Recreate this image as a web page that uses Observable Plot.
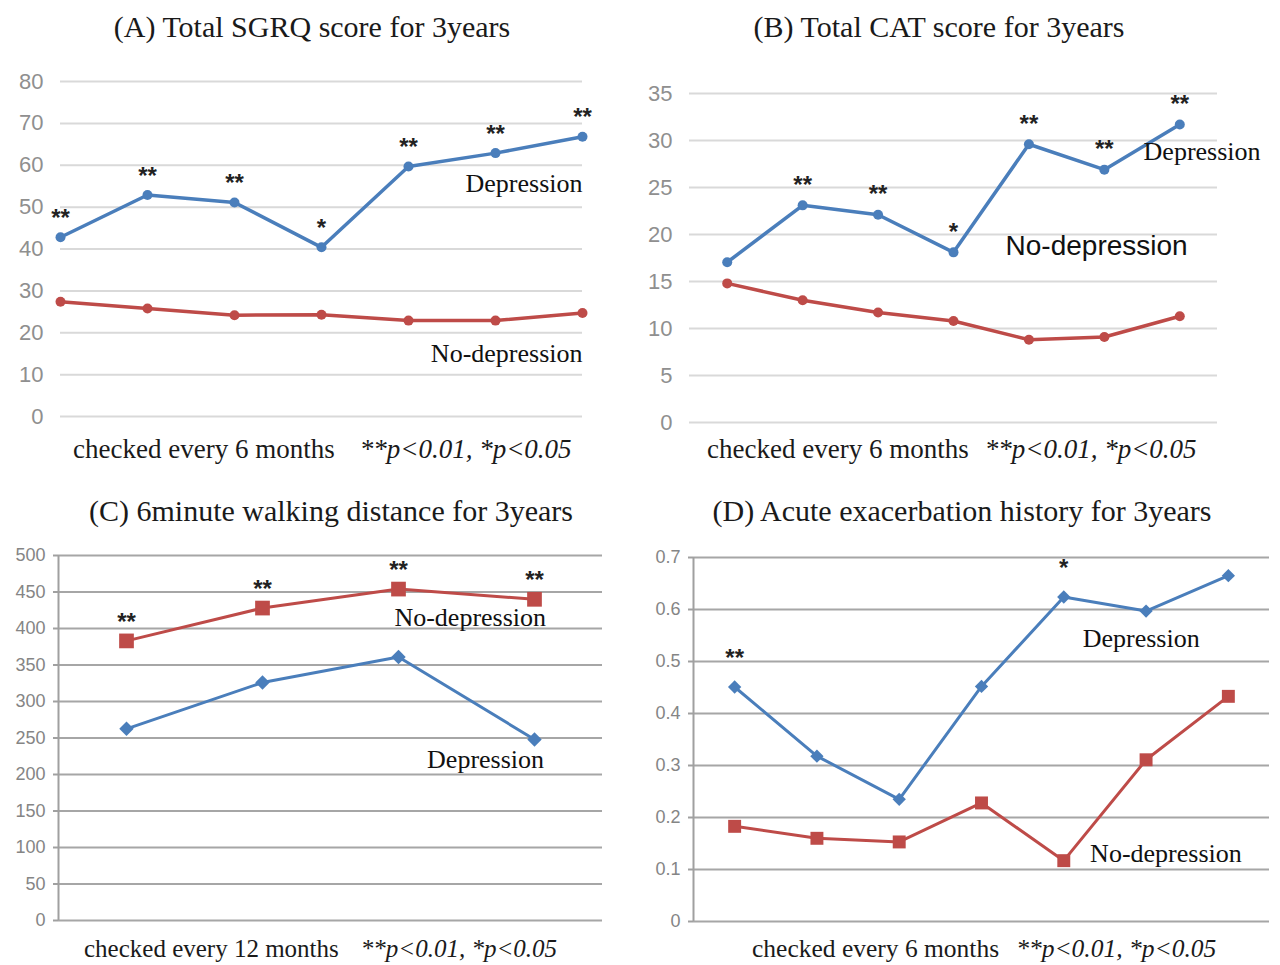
<!DOCTYPE html>
<html>
<head>
<meta charset="utf-8">
<script src="https://cdn.jsdelivr.net/npm/d3@7"></script>
<script src="https://cdn.jsdelivr.net/npm/@observablehq/plot@0.6"></script>
<style>
  body { margin: 0; background: #fff; }
  #page { position: relative; width: 1280px; height: 965px; overflow: hidden; background: #fff; }
  .panel { position: absolute; }
  .panel svg { overflow: visible; }
  .title { position: absolute; font-family: "Liberation Serif", "Times New Roman", serif; font-size: 30px; line-height: 30px; white-space: nowrap; color: #1a1a1a; transform: translateX(-50%); }
  .cap { position: absolute; font-family: "Liberation Serif", "Times New Roman", serif; line-height: 28px; white-space: nowrap; color: #1a1a1a; }
  .cap i { margin-left: var(--gap); }
</style>
</head>
<body>
<div id="page"></div>
<script>
// ---------- data ----------
const visits7 = [1, 2, 3, 4, 5, 6, 7];
const visits4 = [1, 2, 3, 4];

const sgrqDep   = [42.8, 52.9, 51.1, 40.4, 59.7, 62.9, 66.8];
const sgrqNoDep = [27.4, 25.8, 24.2, 24.3, 22.9, 22.9, 24.7];
const sgrqSig   = ["**", "**", "**", "*", "**", "**", "**"];
const sgrqTicks = [0, 10, 20, 30, 40, 50, 60, 70, 80];

const catDep   = [17.05, 23.1, 22.1, 18.1, 29.6, 26.9, 31.7];
const catNoDep = [14.8, 13.0, 11.7, 10.8, 8.8, 9.1, 11.3];
const catSig   = ["", "**", "**", "*", "**", "**", "**"];
const catTicks = [0, 5, 10, 15, 20, 25, 30, 35];

const walkDep   = [262.6, 326, 361, 248];
const walkNoDep = [383, 428, 454, 440];
const walkSig   = ["**", "**", "**", "**"];
const walkTicks = [0, 50, 100, 150, 200, 250, 300, 350, 400, 450, 500];

const aeDep   = [0.451, 0.318, 0.235, 0.452, 0.624, 0.597, 0.665];
const aeNoDep = [0.183, 0.160, 0.153, 0.228, 0.117, 0.311, 0.433];
const aeSig   = ["**", "", "", "", "*", "", ""];
const aeTicks = [0, 0.1, 0.2, 0.3, 0.4, 0.5, 0.6, 0.7];

const titles = [
  "(A) Total SGRQ score for 3years",
  "(B) Total CAT score for 3years",
  "(C) 6minute walking distance for 3years",
  "(D) Acute exacerbation history for 3years"
];
const capPlain = ["checked every 6 months", "checked every 6 months", "checked every 12 months", "checked every 6 months"];
const capSig = "**p<0.01, *p<0.05";

// ---------- style ----------
const BLUE = "#4a7ebb", RED = "#be4b48";
const SERIF = "Liberation Serif, Times New Roman, serif";
const SANS = "Liberation Sans, Arial, sans-serif";

function buildPanel(o) {
  const dep = o.xs.map((x, i) => ({x, v: o.dep[i], sig: o.sigOn === "dep" ? o.sig[i] : ""}));
  const nod = o.xs.map((x, i) => ({x, v: o.nodep[i], sig: o.sigOn === "nodep" ? o.sig[i] : ""}));
  const sigRows = dep.concat(nod).filter(d => d.sig);
  const marks = [
    Plot.ruleY(o.yticks, {stroke: o.grid, strokeWidth: o.gridW})
  ];
  if (o.axisLine) marks.push(Plot.ruleX([o.xDomain[0]], {stroke: o.axisColor, strokeWidth: 2}));
  marks.push(Plot.axisY({
    ticks: o.yticks, tickSize: o.tickSize, tickPadding: o.tickPad,
    stroke: o.axisColor, strokeWidth: 2, fill: o.tickColor,
    fontSize: o.tickFont, fontFamily: SANS, label: null, tickFormat: d => String(d)
  }));
  marks.push(Plot.line(nod, {x: "x", y: "v", stroke: RED, strokeWidth: o.lineW}));
  marks.push(Plot.line(dep, {x: "x", y: "v", stroke: BLUE, strokeWidth: o.lineW}));
  marks.push(Plot.dot(nod, {x: "x", y: "v", symbol: o.symNo, r: o.rNo, fill: RED, stroke: null}));
  marks.push(Plot.dot(dep, {x: "x", y: "v", symbol: o.symDep, r: o.rDep, fill: BLUE, stroke: null}));
  marks.push(Plot.text(sigRows, {x: "x", y: "v", text: "sig", dy: o.sigDy, fontSize: 24, fontWeight: "bold", fontFamily: SANS, fill: "#222"}));
  for (const L of o.labels) {
    marks.push(Plot.text([L], {x: "x", y: "y", text: "text", textAnchor: L.anchor, fontSize: L.size, fontFamily: L.font, fill: "#111"}));
  }
  return Plot.plot({
    width: o.width, height: o.height,
    marginLeft: o.m[3], marginRight: o.m[1], marginTop: o.m[0], marginBottom: o.m[2],
    x: {domain: o.xDomain, axis: null},
    y: {domain: [o.yticks[0], o.yticks[o.yticks.length - 1]]},
    style: {background: "transparent", overflow: "visible"},
    marks
  });
}

const panels = [
  {
    left: 0, top: 60, width: 640, height: 380, m: [21, 58, 24, 60],
    xs: visits7, xDomain: [1, 7], dep: sgrqDep, nodep: sgrqNoDep, sig: sgrqSig, sigOn: "dep", yticks: sgrqTicks,
    grid: "#d9d9d9", gridW: 2, axisLine: false, axisColor: "#999", tickSize: 0, tickPad: 17, tickColor: "#8f8f8f", tickFont: 22,
    lineW: 3.5, symDep: "circle", symNo: "circle", rDep: 5, rNo: 5, sigDy: -19,
    labels: [
      {text: "Depression", x: 7, y: 55.6, anchor: "end", size: 26, font: SERIF},
      {text: "No-depression", x: 7, y: 15, anchor: "end", size: 26, font: SERIF}
    ]
  },
  {
    left: 640, top: 60, width: 640, height: 380, m: [33, 63, 18, 49],
    xs: visits7, xDomain: [0.5, 7.5], dep: catDep, nodep: catNoDep, sig: catSig, sigOn: "dep", yticks: catTicks,
    grid: "#d9d9d9", gridW: 2, axisLine: false, axisColor: "#999", tickSize: 0, tickPad: 17, tickColor: "#8f8f8f", tickFont: 22,
    lineW: 3.5, symDep: "circle", symNo: "circle", rDep: 5, rNo: 5, sigDy: -20,
    labels: [
      {text: "Depression", x: 6.52, y: 28.85, anchor: "start", size: 26, font: SERIF},
      {text: "No-depression", x: 4.69, y: 18.8, anchor: "start", size: 28, font: SANS}
    ]
  },
  {
    left: 0, top: 540, width: 640, height: 400, m: [15, 38, 20, 58],
    xs: visits4, xDomain: [0.5, 4.5], dep: walkDep, nodep: walkNoDep, sig: walkSig, sigOn: "nodep", yticks: walkTicks,
    grid: "#a6a6a6", gridW: 2, axisLine: true, axisColor: "#a0a0a0", tickSize: 5, tickPad: 8, tickColor: "#858585", tickFont: 18,
    lineW: 3, symDep: "diamond2", symNo: "square", rDep: 6.5, rNo: 8.3, sigDy: -19,
    labels: [
      {text: "No-depression", x: 2.97, y: 415, anchor: "start", size: 26, font: SERIF},
      {text: "Depression", x: 3.21, y: 220, anchor: "start", size: 26, font: SERIF}
    ]
  },
  {
    left: 640, top: 540, width: 640, height: 400, m: [17, 11, 19, 53],
    xs: visits7, xDomain: [0.5, 7.5], dep: aeDep, nodep: aeNoDep, sig: aeSig, sigOn: "dep", yticks: aeTicks,
    grid: "#a6a6a6", gridW: 2, axisLine: true, axisColor: "#a0a0a0", tickSize: 5, tickPad: 8, tickColor: "#858585", tickFont: 18,
    lineW: 3, symDep: "diamond2", symNo: "square", rDep: 6, rNo: 7.3, sigDy: -29,
    labels: [
      {text: "Depression", x: 5.23, y: 0.544, anchor: "start", size: 26, font: SERIF},
      {text: "No-depression", x: 5.32, y: 0.131, anchor: "start", size: 26, font: SERIF}
    ]
  }
];

const titlePos = [[312, 12], [939, 12], [331, 496], [962, 496]];
// left, top, gap before the significance note, font size
const capPos = [[73, 435, 25, 27], [707, 435, 16, 27], [84, 935, 22, 25], [752, 935, 17, 25.5]];

const page = document.getElementById("page");
panels.forEach((p, i) => {
  const t = document.createElement("div");
  t.className = "title";
  t.style.left = titlePos[i][0] + "px";
  t.style.top = titlePos[i][1] + "px";
  t.textContent = titles[i];
  page.appendChild(t);

  const d = document.createElement("div");
  d.className = "panel";
  d.style.left = p.left + "px";
  d.style.top = p.top + "px";
  d.appendChild(buildPanel(p));
  page.appendChild(d);

  const c = document.createElement("div");
  c.className = "cap";
  c.style.left = capPos[i][0] + "px";
  c.style.top = capPos[i][1] + "px";
  c.style.fontSize = capPos[i][3] + "px";
  c.style.setProperty("--gap", capPos[i][2] + "px");
  c.appendChild(document.createTextNode(capPlain[i]));
  const it = document.createElement("i");
  it.textContent = capSig;
  c.appendChild(it);
  page.appendChild(c);
});
</script>
</body>
</html>
